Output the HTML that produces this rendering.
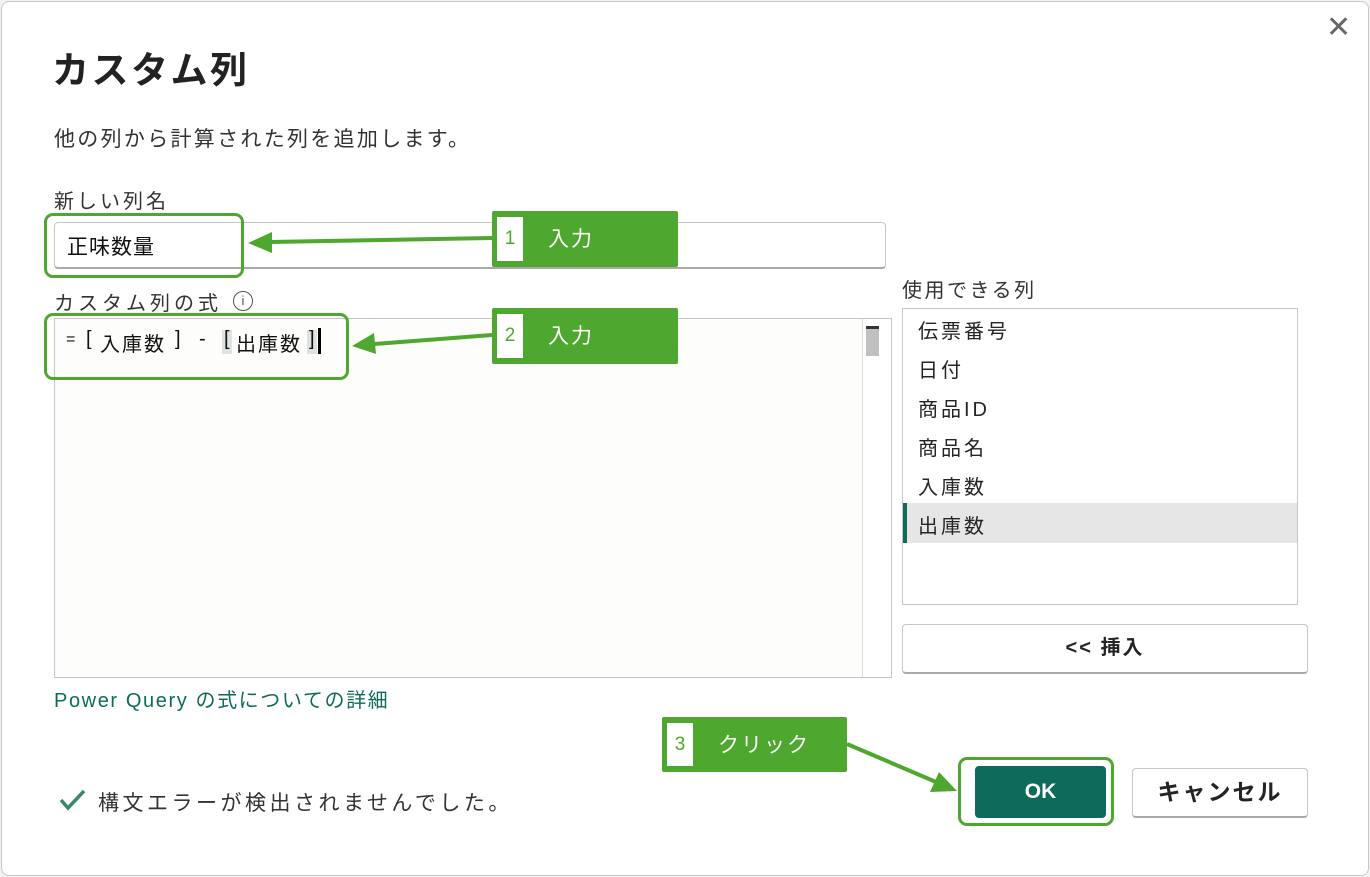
<!DOCTYPE html>
<html><head><meta charset="utf-8"><style>
*{box-sizing:border-box;margin:0;padding:0}
body{width:1370px;height:877px;background:#f3f3f3;position:relative;overflow:hidden;font-family:"Liberation Sans","Noto Sans CJK JP",sans-serif;color:#242424}
.a{position:absolute}
.dlg{left:1px;top:1px;width:1368px;height:875px;background:#fff;border:1px solid #c8c8c8;border-radius:8px}
.hl{border:3px solid #4ea72e;border-radius:9px}
.co{background:#4ea72e;color:#fff;font-size:21px;border-radius:2px}
.co .n{position:absolute;left:5px;top:6px;width:26px;bottom:6px;background:#fff;color:#4ea72e;font-size:19px;display:flex;align-items:center;justify-content:center}
.co .t{position:absolute;left:56px;top:12px;letter-spacing:2px}
.li{left:918px;font-size:20px;letter-spacing:3px}
.f{position:absolute;top:328px;font-size:20px;color:#111}
</style></head><body>
<div class="a dlg"></div>
<div class="a" style="left:1326px;top:10px;font-size:30px;color:#666;font-weight:300">✕</div>
<div class="a" style="left:52px;top:40px;font-size:37px;font-weight:bold;color:#222;letter-spacing:2.5px">カスタム列</div>
<div class="a" style="left:54px;top:123px;font-size:21px;color:#333;letter-spacing:2.3px">他の列から計算された列を追加します。</div>
<div class="a" style="left:54px;top:185px;font-size:20px;color:#333;letter-spacing:3px">新しい列名</div>
<div class="a" style="left:54px;top:222px;width:832px;height:47px;border:1px solid #c6c6c6;border-bottom:2px solid #aaa;border-radius:4px"></div>
<div class="a" style="left:67px;top:231px;font-size:21px;color:#111;letter-spacing:1px">正味数量</div>
<div class="a" style="left:54px;top:287px;font-size:20px;color:#333;letter-spacing:4px">カスタム列の式</div>
<div class="a" style="left:233px;top:291px;width:20px;height:20px;border:1.5px solid #555;border-radius:50%;font-size:13px;text-align:center;line-height:17px;color:#555">i</div>
<div class="a" style="left:54px;top:318px;width:838px;height:360px;border:1px solid #c6c6c6;background:#fdfdfb"></div>
<div class="a" style="left:862px;top:319px;width:29px;height:358px;border-left:1px solid #ddd;background:#fff"></div>
<div class="a" style="left:866px;top:326px;width:13px;height:30px;background:#c0c0c0;border-top:3px solid #333"></div>
<div class="a" style="left:222px;top:330px;width:10px;height:24px;background:#dde3e0"></div>
<div class="a" style="left:307px;top:330px;width:10px;height:24px;background:#dde3e0"></div>
<div class="f" style="left:66px;font-size:16px;top:331px">=</div>
<div class="f" style="left:86px">[</div>
<div class="f" style="left:100px;letter-spacing:2px">入庫数</div>
<div class="f" style="left:175px">]</div>
<div class="f" style="left:199px">-</div>
<div class="f" style="left:224px">[</div>
<div class="f" style="left:236px;letter-spacing:2px">出庫数</div>
<div class="f" style="left:309px">]</div>
<div class="a" style="left:318px;top:328px;width:3px;height:26px;background:#000"></div>
<div class="a" style="left:902px;top:274px;font-size:20px;color:#333;letter-spacing:2.5px">使用できる列</div>
<div class="a" style="left:902px;top:308px;width:396px;height:297px;border:1px solid #c6c6c6"></div>
<div class="a" style="left:903px;top:503px;width:394px;height:40px;background:#e6e6e6;border-left:4px solid #0e6b5a"></div>
<div class="a li" style="top:315px">伝票番号</div>
<div class="a li" style="top:354px">日付</div>
<div class="a li" style="top:393px">商品ID</div>
<div class="a li" style="top:432px">商品名</div>
<div class="a li" style="top:471px">入庫数</div>
<div class="a li" style="top:510px">出庫数</div>
<div class="a" style="left:902px;top:624px;width:406px;height:50px;border:1px solid #c6c6c6;border-bottom:2px solid #aaa;border-radius:4px;text-align:center;line-height:46px;font-size:20px;font-weight:bold;letter-spacing:2px">&lt;&lt; 挿入</div>
<div class="a" style="left:54px;top:684px;font-size:20px;color:#0e6b5a;letter-spacing:1.6px">Power Query の式についての詳細</div>
<svg class="a" style="left:58px;top:788px" width="30" height="24"><polyline points="3,12 10,20 26,3" fill="none" stroke="#3a8a6a" stroke-width="3.5"/></svg>
<div class="a" style="left:98px;top:787px;font-size:21px;color:#333;letter-spacing:3.5px">構文エラーが検出されませんでした。</div>
<div class="a" style="left:975px;top:766px;width:131px;height:52px;background:#0e6b5a;border-radius:4px;color:#fff;font-weight:bold;font-size:21px;text-align:center;line-height:52px">OK</div>
<div class="a" style="left:1132px;top:768px;width:176px;height:50px;border:1px solid #c6c6c6;border-bottom:2px solid #aaa;border-radius:4px;text-align:center;line-height:46px;font-size:23px;font-weight:bold;letter-spacing:2px">キャンセル</div>
<div class="a hl" style="left:44px;top:213px;width:200px;height:65px"></div>
<div class="a hl" style="left:44px;top:313px;width:305px;height:67px"></div>
<div class="a hl" style="left:958px;top:757px;width:156px;height:69px"></div>
<div class="a co" style="left:492px;top:211px;width:186px;height:56px"><div class="n">1</div><div class="t">入力</div></div>
<div class="a co" style="left:492px;top:308px;width:186px;height:56px"><div class="n">2</div><div class="t">入力</div></div>
<div class="a co" style="left:662px;top:717px;width:185px;height:55px"><div class="n">3</div><div class="t">クリック</div></div>
<svg class="a" style="left:0;top:0" width="1370" height="877">
<g stroke="#4ea72e" stroke-width="4" fill="#4ea72e">
<line x1="492" y1="238" x2="270" y2="242"/>
<polygon points="248,243 272,232 272,253" stroke="none"/>
<line x1="492" y1="335" x2="374" y2="344"/>
<polygon points="352,346 374,333 376,354" stroke="none"/>
<line x1="847" y1="744" x2="936" y2="782"/>
<polygon points="957,791 930,792 939,772" stroke="none"/>
</g></svg>
</body></html>
